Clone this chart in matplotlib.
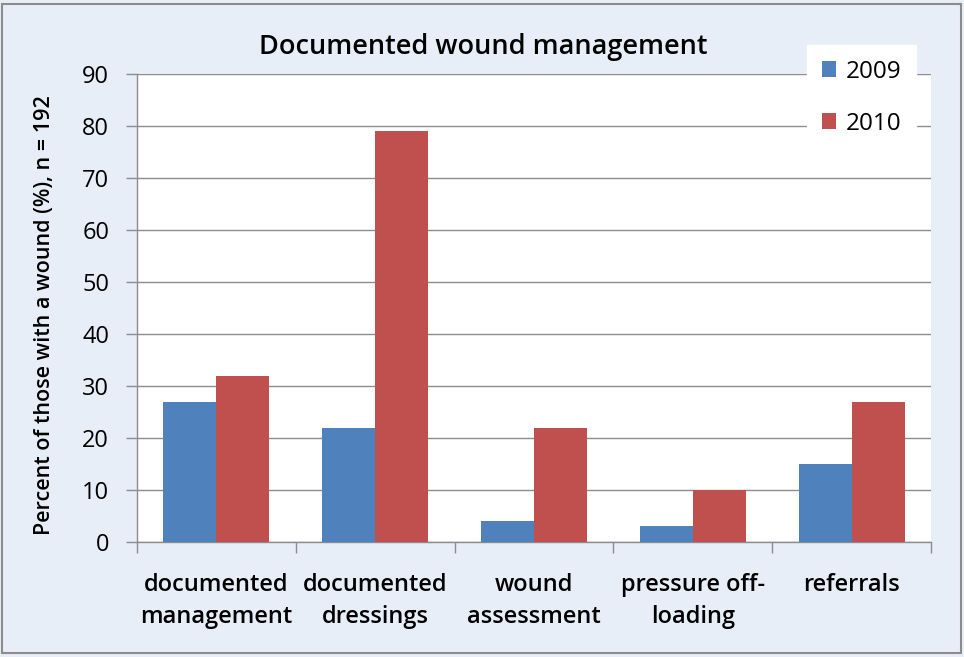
import matplotlib.pyplot as plt
import numpy as np
from matplotlib.patches import Rectangle

categories = ["documented\nmanagement", "documented\ndressings", "wound\nassessment",
              "pressure off-\nloading", "referrals"]
years = ["2009", "2010"]
vals_2009 = [27, 22, 4, 3, 15]
vals_2010 = [32, 79, 22, 10, 27]
yticks = [0, 10, 20, 30, 40, 50, 60, 70, 80, 90]

plt.rcParams['font.family'] = ['Open Sans', 'DejaVu Sans']

bg = '#E8EEF7'
fig = plt.figure(figsize=(9.64, 6.57), dpi=100, facecolor=bg)
fig.patches.append(Rectangle((0.002, 0.006), 0.995, 0.988, transform=fig.transFigure,
                             fill=False, edgecolor='#8C8C8C', lw=1.5))
ax = fig.add_axes([137/964, 1 - 542/657, 794/964, 468/657])
ax.set_facecolor('white')

x = np.arange(len(categories))
w = 1/3
ax.bar(x - w/2, vals_2009, w, color='#4F81BD', label=years[0], zorder=3)
ax.bar(x + w/2, vals_2010, w, color='#C0504D', label=years[1], zorder=3)

ax.set_xlim(-0.5, len(categories) - 0.5)
ax.set_ylim(0, 90)
ax.set_yticks(yticks)
ax.yaxis.grid(True, color='#8C8C8C', lw=1, zorder=0)
ax.set_xticks(x)
ax.set_xticklabels(categories, fontsize=17, fontweight='semibold', linespacing=1.45)
ax.set_xticks(np.arange(len(categories) + 1) - 0.5, minor=True)
ax.tick_params(axis='x', which='major', length=0, pad=22)
ax.tick_params(axis='x', which='minor', length=8, color='#8C8C8C', width=1)
ax.tick_params(axis='y', length=8, color='#8C8C8C', width=1, labelsize=17, pad=12)

for s in ['top', 'right']:
    ax.spines[s].set_visible(False)
for s in ['left', 'bottom']:
    ax.spines[s].set_color('#8C8C8C')
    ax.spines[s].set_linewidth(1)

ax.set_ylabel("Percent of those with a wound (%), n = 192", fontsize=15.5,
              fontweight='semibold')
ax.yaxis.set_label_coords(-0.103, 0.485)
fig.text(483/964, 1 - 47/657, "Documented wound management", fontsize=19.5,
         fontweight='semibold', ha='center', va='center')

leg = fig.legend(loc='upper left', bbox_to_anchor=(807/964, 1 - 45/657),
                 frameon=True, fancybox=False, fontsize=17.5, handlelength=0.6,
                 handleheight=0.6, labelspacing=1.15, handletextpad=0.4,
                 borderpad=0.6, borderaxespad=0)
leg.get_frame().set_facecolor('white')
leg.get_frame().set_edgecolor('white')
leg.get_frame().set_alpha(1)

fig.savefig('out.png', dpi=100, facecolor=bg)
